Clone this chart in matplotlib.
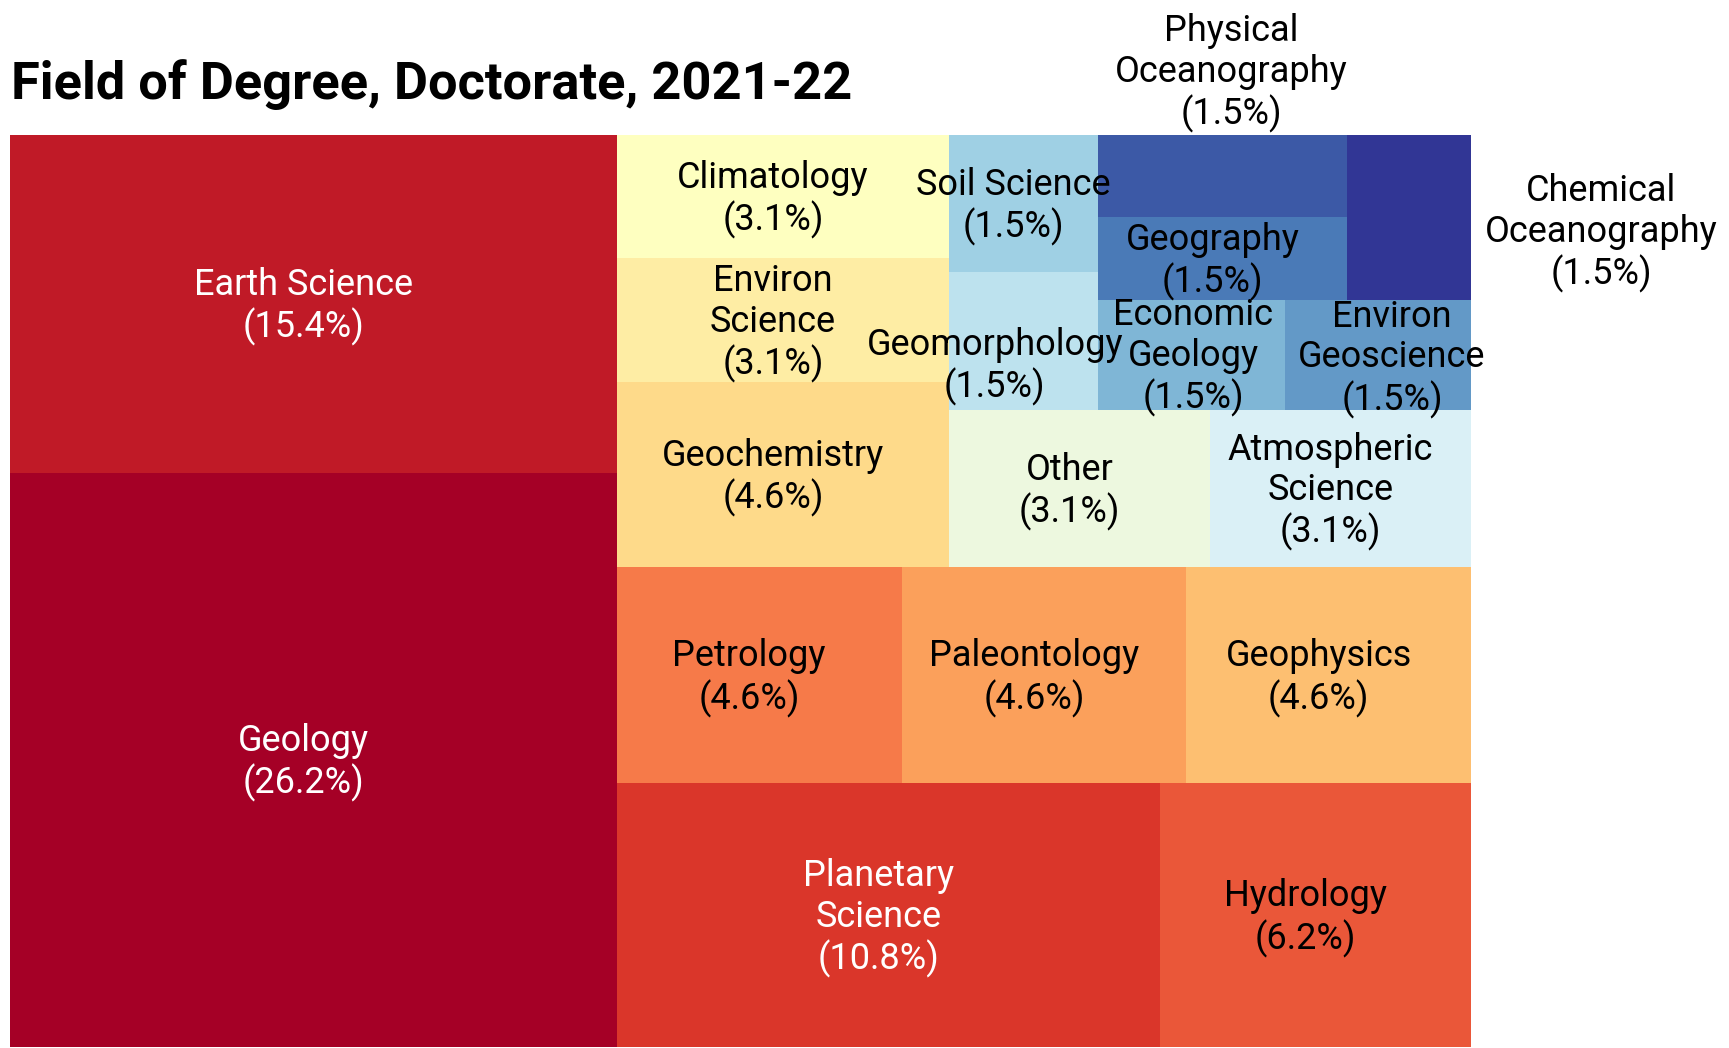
import numpy as np
import matplotlib
matplotlib.use("Agg")
import matplotlib.pyplot as plt
import matplotlib.transforms as mtransforms

# ---------------- data ----------------
title = "Field of Degree, Doctorate, 2021-22"
fields = ["Geology", "Earth Science", "Planetary Science", "Hydrology",
          "Petrology", "Paleontology", "Geophysics", "Geochemistry",
          "Environ Science", "Climatology", "Other", "Atmospheric Science",
          "Geomorphology", "Soil Science", "Economic Geology",
          "Environ Geoscience", "Geography", "Physical Oceanography",
          "Chemical Oceanography"]
display_names = ["Geology", "Earth Science", "Planetary\nScience", "Hydrology",
                 "Petrology", "Paleontology", "Geophysics", "Geochemistry",
                 "Environ\nScience", "Climatology", "Other", "Atmospheric\nScience",
                 "Geomorphology", "Soil Science", "Economic\nGeology",
                 "Environ\nGeoscience", "Geography", "Physical\nOceanography",
                 "Chemical\nOceanography"]
counts = [17, 10, 7, 4, 3, 3, 3, 3, 2, 2, 2, 2, 1, 1, 1, 1, 1, 1, 1]
white_text = ["Geology", "Earth Science", "Planetary Science"]

# labels nudged away from their box centres (data coords of the 100x100 layout)
moved_labels = {"Geomorphology": (67.4, 74.9),
                "Economic Geology": (81.0, 76.0),
                "Environ Geoscience": (94.6, 75.8),
                "Physical Oceanography": (83.6, 107.1),
                "Chemical Oceanography": (108.9, 89.6)}

# ---------------- squarify layout ----------------
def layoutrow(sizes, x, y, dx, dy):
    covered = sum(sizes)
    width = covered / dy
    rects = []
    for s in sizes:
        rects.append((x, y, width, s / width))
        y += s / width
    return rects

def layoutcol(sizes, x, y, dx, dy):
    covered = sum(sizes)
    height = covered / dx
    rects = []
    for s in sizes:
        rects.append((x, y, s / height, height))
        x += s / height
    return rects

def layout(sizes, x, y, dx, dy):
    return layoutrow(sizes, x, y, dx, dy) if dx >= dy else layoutcol(sizes, x, y, dx, dy)

def leftover(sizes, x, y, dx, dy):
    covered = sum(sizes)
    if dx >= dy:
        width = covered / dy
        return x + width, y, dx - width, dy
    height = covered / dx
    return x, y + height, dx, dy - height

def worst_ratio(sizes, x, y, dx, dy):
    return max(max(r[2] / r[3], r[3] / r[2]) for r in layout(sizes, x, y, dx, dy))

def squarify(sizes, x, y, dx, dy):
    sizes = list(map(float, sizes))
    if len(sizes) == 0:
        return []
    if len(sizes) == 1:
        return layout(sizes, x, y, dx, dy)
    i = 1
    while i < len(sizes) and worst_ratio(sizes[:i], x, y, dx, dy) >= worst_ratio(sizes[:i + 1], x, y, dx, dy):
        i += 1
    current, remaining = sizes[:i], sizes[i:]
    lx, ly, ldx, ldy = leftover(current, x, y, dx, dy)
    return layout(current, x, y, dx, dy) + squarify(remaining, lx, ly, ldx, ldy)

total = sum(counts)
norm_sizes = [c * 100.0 * 100.0 / total for c in counts]
rects = squarify(norm_sizes, 0, 0, 100, 100)

# ---------------- plot ----------------
plt.rcParams["font.family"] = ["Roboto", "DejaVu Sans"]
W, H, DPI = 1729, 1048, 100
fig = plt.figure(figsize=(W / DPI, H / DPI), dpi=DPI)
ax = fig.add_axes([10 / W, 1 / H, 1461 / W, 912 / H])

colors = plt.get_cmap("RdYlBu")(np.linspace(0, 1, len(counts)))
xs = [r[0] for r in rects]
ys = [r[1] for r in rects]
dxs = [r[2] for r in rects]
dys = [r[3] for r in rects]
ax.bar(xs, dys, width=dxs, bottom=ys, align="edge", color=colors, linewidth=0)

shift_center = mtransforms.ScaledTranslation(-10 / DPI, -3 / DPI, fig.dpi_scale_trans)
shift_moved = mtransforms.ScaledTranslation(0, -3 / DPI, fig.dpi_scale_trans)
for name, disp, cnt, r in zip(fields, display_names, counts, rects):
    pct = cnt / total * 100
    tcol = "white" if name in white_text else "black"
    if name in moved_labels:
        tx, ty = moved_labels[name]
        tr = ax.transData + shift_moved
    else:
        tx, ty = r[0] + r[2] / 2, r[1] + r[3] / 2
        tr = ax.transData + shift_center
    ax.text(tx, ty, f"{disp}\n({pct:.1f}%)", ha="center", va="center",
            fontsize=26, linespacing=1.16, color=tcol, clip_on=False,
            transform=tr, zorder=5)

ax.set_xlim(0, 100)
ax.set_ylim(0, 100)
ax.axis("off")

fig.text(11 / W, 1 - 99 / H, title, ha="left", va="baseline",
         fontsize=37.7, fontweight="bold")

fig.savefig("out.png", dpi=DPI, facecolor="white")
